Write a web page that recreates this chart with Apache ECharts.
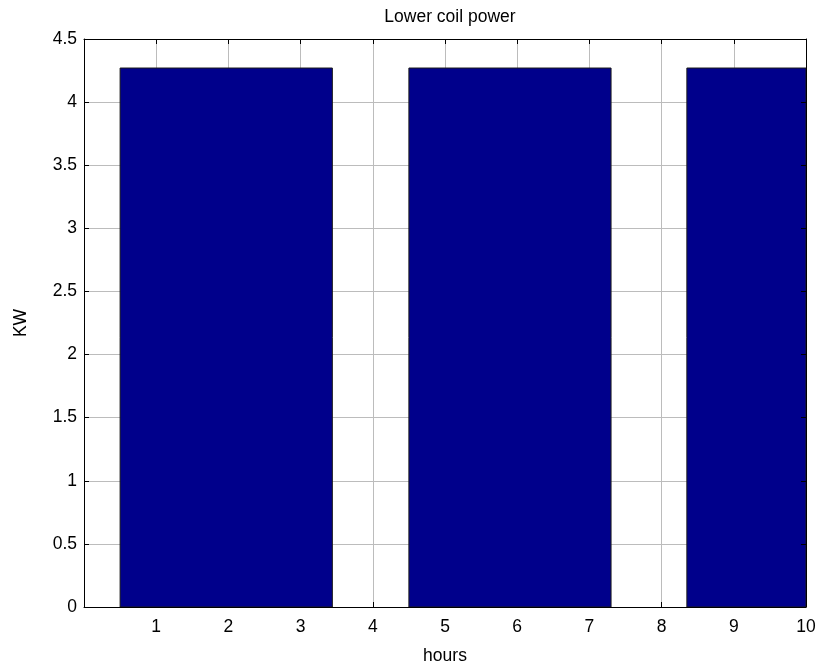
<!DOCTYPE html>
<html>
<head>
<meta charset="utf-8">
<script src="https://cdn.jsdelivr.net/npm/echarts@6/dist/echarts.min.js"></script>
<style>
html,body{margin:0;padding:0;background:#fff;}
#chart{width:819px;height:670px;}
</style>
</head>
<body>
<div id="chart"></div>
<script>
// Data
const titleText = 'Lower coil power';
const xName = 'hours';
const yName = 'KW';
const blockStart = [0.5, 4.5, 8.35];   // hours
const blockEnd   = [3.44, 7.3, 10.0];  // hours
const power      = [4.27, 4.27, 4.27]; // KW
const xMin = 0, xMax = 10, xStep = 1;
const yMin = 0, yMax = 4.5, yStep = 0.5;

const seriesData = blockStart.map((s, i) => [s, blockEnd[i], power[i]]);

const font = 'Liberation Sans, Arial, sans-serif';
const fs = 17.5;
const chart = echarts.init(document.getElementById('chart'), null, {renderer: 'canvas'});

const baseX = {
  type: 'value', min: xMin, max: xMax, interval: xStep,
  axisLine: {show: true, onZero: false, lineStyle: {color: '#000', width: 1}},
  axisTick: {show: true, inside: true, length: 5, lineStyle: {color: '#000'}},
  splitLine: {show: false}
};
const baseY = {
  type: 'value', min: yMin, max: yMax, interval: yStep,
  axisLine: {show: true, onZero: false, lineStyle: {color: '#000', width: 1}},
  axisTick: {show: true, inside: true, length: 5, lineStyle: {color: '#000'}},
  splitLine: {show: false}
};

chart.setOption({
  animation: false,
  backgroundColor: '#fff',
  title: {
    text: titleText, left: 445, textAlign: 'center', top: 3,
    textStyle: {fontFamily: font, fontSize: fs, fontWeight: 'normal', color: '#000'}
  },
  grid: {left: 84, right: 13, top: 39, bottom: 61, containLabel: false},
  xAxis: [
    Object.assign({}, baseX, {
      position: 'bottom',
      name: xName, nameLocation: 'middle', nameGap: 40,
      nameTextStyle: {fontFamily: font, fontSize: fs, color: '#000'},
      axisLabel: {show: true, margin: 11, color: '#000', fontFamily: font, fontSize: fs,
        formatter: v => v === 0 ? '' : String(v)},
      splitLine: {show: true, lineStyle: {color: '#bcbcbc', width: 1}}
    }),
    Object.assign({}, baseX, {position: 'top', axisLabel: {show: false}, z: 10})
  ],
  yAxis: [
    Object.assign({}, baseY, {
      position: 'left',
      name: yName, nameLocation: 'middle', nameGap: 54, nameRotate: 90,
      nameTextStyle: {fontFamily: font, fontSize: fs, color: '#000'},
      axisLabel: {show: true, margin: 7, color: '#000', fontFamily: font, fontSize: fs},
      splitLine: {show: true, lineStyle: {color: '#bcbcbc', width: 1}}
    }),
    Object.assign({}, baseY, {position: 'right', axisLabel: {show: false}, z: 10})
  ],
  series: [{
    type: 'custom',
    xAxisIndex: 0, yAxisIndex: 0,
    clip: true,
    z: 5,
    data: seriesData,
    encode: {x: [0, 1], y: 2},
    renderItem: function (params, api) {
      const p0 = api.coord([api.value(0), api.value(2)]);
      const p1 = api.coord([api.value(1), 0]);
      return {
        type: 'rect',
        shape: {x: p0[0], y: p0[1], width: p1[0] - p0[0], height: p1[1] - p0[1]},
        style: {fill: '#00008b', stroke: '#1a1a1a', lineWidth: 1}
      };
    }
  }]
});
</script>
</body>
</html>
